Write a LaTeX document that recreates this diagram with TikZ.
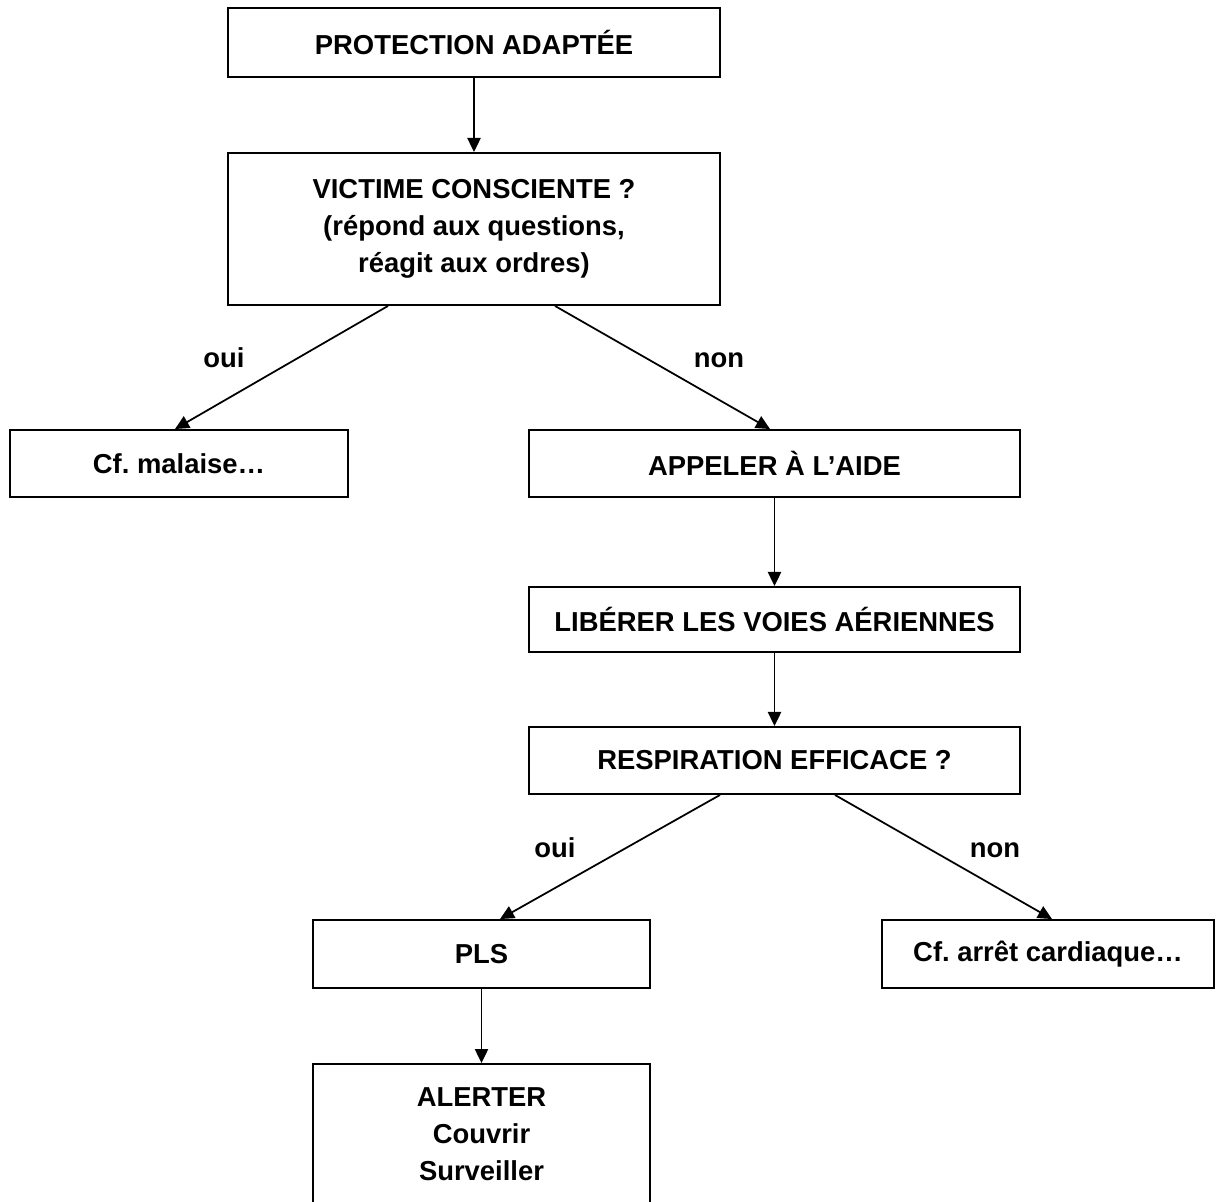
\documentclass[tikz,border=0pt]{standalone}
\usepackage{fontspec}
\setmainfont{Liberation Sans}
\usetikzlibrary{arrows.meta,calc}
\frenchspacing
\begin{document}
\begin{tikzpicture}[x=0.02cm,y=-0.02cm,
  box/.style={draw=black,line width=1.1pt,fill=white,inner sep=0pt,align=center,
    font=\bfseries\fontsize{15.6}{21}\selectfont},
  lbl/.style={inner sep=0pt,anchor=base,font=\bfseries\fontsize{15.6}{21}\selectfont},
  arr/.style={draw=black,line width=1pt,-{Triangle[length=8pt,width=7.5pt]}}]
\useasboundingbox (0,0) rectangle (1216,1202);
\begin{scope}
\clip (0,0) rectangle (1216,1202);
\node[box,minimum width=9.84cm,minimum height=1.38cm] (P) at (474,42.5) {PROTECTION ADAPTÉE};
\node[box,minimum width=9.84cm,minimum height=3.04cm] (V) at (474,229)
  {VICTIME CONSCIENTE ?\\(répond aux questions,\\réagit aux ordres)};
\node[box,minimum width=6.76cm,minimum height=1.34cm] (M) at (179,463.5) {Cf. malaise…};
\node[box,minimum width=9.82cm,minimum height=1.34cm] (A) at (774.5,463.5) {APPELER À L’AIDE};
\node[box,minimum width=9.82cm,minimum height=1.30cm] (L) at (774.5,619.5) {LIBÉRER LES VOIES AÉRIENNES};
\node[box,minimum width=9.82cm,minimum height=1.34cm] (R) at (774.5,760.5) {RESPIRATION EFFICACE ?};
\node[box,minimum width=6.74cm,minimum height=1.36cm] (PLS) at (481.5,954) {PLS};
\node[box,minimum width=6.64cm,minimum height=1.36cm] (C) at (1048,954) {Cf. arrêt cardiaque…};
\node[box,minimum width=6.74cm,minimum height=4cm] (AL) at (481.5,1164) {};
\node[box,draw=none,fill=none] (ALt) at (481.5,1134) {ALERTER\\Couvrir\\Surveiller};
\end{scope}
\draw[arr] (P.south) -- (V.north);
\draw[arr] ($(V.south)+(-86,0)$) -- ($(M.north)+(-4,0)$);
\draw[arr] ($(V.south)+(81,0)$) -- ($(A.north)+(-4.5,0)$);
\draw[arr] (A.south) -- (L.north);
\draw[arr] (L.south) -- (R.north);
\draw[arr] ($(R.south)+(-54.5,0)$) -- ($(PLS.north)+(18.5,0)$);
\draw[arr] ($(R.south)+(60.5,0)$) -- ($(C.north)+(4,0)$);
\draw[arr] (PLS.south) -- (AL.north);
\node[lbl] (o1) at (224,368) {oui};
\node[lbl] (n1) at (719,368) {non};
\node[lbl] (o2) at (555,857) {oui};
\node[lbl] (n2) at (995,857) {non};
\end{tikzpicture}
\end{document}
